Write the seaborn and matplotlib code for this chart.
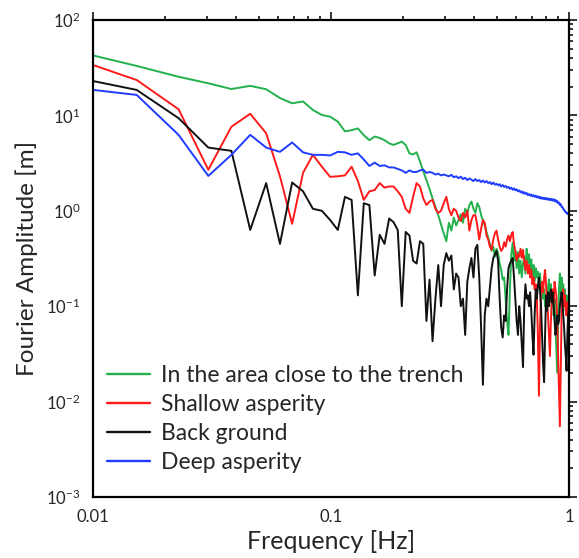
import numpy as np
import pandas as pd
import matplotlib
matplotlib.use("Agg")
import matplotlib.pyplot as plt
import seaborn as sns
from matplotlib.ticker import LogLocator, FixedLocator, FixedFormatter, NullFormatter

# Fourier frequency grid (df = 1/131.072 Hz), k = 1..131
DF = 1 / 131.072
freq = list(np.arange(1, 132) * DF)

trench = [
    50, 33, 25.4, 21.7, 18.9, 20.4, 18.8, 15.2, 13.4, 14.0,
    11.4, 10.1, 9.7, 8.6, 6.8, 7.0, 7.3, 6.2, 5.5, 6.0,
    5.8, 5.5, 5.1, 4.9, 5.1, 5.3, 4.9, 4.0, 3.9, 4.1,
    3.3, 2.6, 2.1, 1.7, 1.35, 1.1, 0.9, 0.72, 0.58, 0.48,
    0.75, 0.62, 0.85, 0.7, 0.8, 0.92, 0.75, 1.05, 0.95, 1.15,
    1.25, 1.05, 0.95, 1.2, 1.1, 0.9, 0.8, 0.7, 0.6, 0.52,
    0.45, 0.38, 0.42, 0.33, 0.40, 0.36, 0.28, 0.24, 0.19, 0.2,
    0.12, 0.07, 0.05, 0.15, 0.35, 0.46, 0.3, 0.38, 0.25, 0.37,
    0.22, 0.3, 0.2, 0.28, 0.33, 0.22, 0.4, 0.28, 0.35, 0.24,
    0.31, 0.2, 0.27, 0.18, 0.25, 0.2, 0.23, 0.16, 0.22, 0.15,
    0.18, 0.12, 0.15, 0.1, 0.13, 0.1, 0.16, 0.19, 0.12, 0.17,
    0.1, 0.14, 0.08, 0.12, 0.06, 0.035, 0.02, 0.06, 0.15, 0.22,
    0.14, 0.2, 0.12, 0.17, 0.1, 0.15, 0.09, 0.13, 0.08, 0.12,
    0.1,
]

shallow = [
    42.5, 23.5, 11.6, 2.69, 7.6, 10.4, 6.5, 2.3, 0.73, 2.5,
    3.86, 2.9, 2.27, 2.3, 2.35, 2.9, 2.05, 1.3, 1.6, 1.65,
    1.95, 1.75, 1.8, 1.8, 1.6, 1.4, 1.05, 0.95, 1.4, 1.95,
    1.8, 1.35, 1.15, 1.25, 1.3, 1.05, 0.95, 1.0, 1.2, 1.4,
    1.05, 0.9, 1.05, 1.0, 0.85, 0.78, 0.95, 0.85, 1.0, 0.62,
    0.8, 0.9, 0.9, 0.7, 0.5, 0.65, 0.8, 0.75, 0.55, 0.5,
    0.42, 0.39, 0.5, 0.58, 0.62, 0.5, 0.42, 0.38, 0.4, 0.47,
    0.42, 0.5, 0.55, 0.48, 0.56, 0.6, 0.45, 0.38, 0.3, 0.35,
    0.33, 0.4, 0.32, 0.39, 0.3, 0.24, 0.3, 0.22, 0.27, 0.2,
    0.24, 0.17, 0.2, 0.15, 0.17, 0.13, 0.05, 0.0115, 0.06, 0.15,
    0.18, 0.14, 0.2, 0.24, 0.16, 0.11, 0.08, 0.05, 0.03, 0.07,
    0.12, 0.15, 0.11, 0.18, 0.15, 0.13, 0.07, 0.03, 0.012, 0.0055,
    0.02, 0.08, 0.12, 0.15, 0.1, 0.13, 0.09, 0.08, 0.11, 0.09,
    0.07,
]

background = [
    26.3, 18.5, 9.35, 4.6, 4.25, 0.63, 1.95, 0.45, 1.98, 1.6,
    1.05, 1.0, 0.8, 0.63, 1.4, 1.3, 0.13, 1.2, 1.15, 0.21,
    0.56, 0.45, 0.83, 0.76, 0.63, 0.1, 0.6, 0.55, 0.3, 0.28,
    0.48, 0.45, 0.07, 0.19, 0.043, 0.12, 0.27, 0.1, 0.27, 0.36,
    0.3, 0.34, 0.15, 0.22, 0.2, 0.1, 0.12, 0.05, 0.18, 0.25,
    0.32, 0.2, 0.4, 0.44, 0.2, 0.06, 0.015, 0.08, 0.12, 0.1,
    0.16, 0.25, 0.32, 0.35, 0.38, 0.3, 0.12, 0.06, 0.047, 0.08,
    0.07, 0.15, 0.25, 0.28, 0.3, 0.32, 0.2, 0.12, 0.07, 0.05,
    0.1, 0.07, 0.04, 0.023, 0.1, 0.17, 0.12, 0.13, 0.1, 0.14,
    0.09, 0.05, 0.031, 0.08, 0.15, 0.12, 0.16, 0.2, 0.15, 0.1,
    0.05, 0.025, 0.016, 0.05, 0.13, 0.09, 0.14, 0.1, 0.13, 0.15,
    0.11, 0.14, 0.1, 0.07, 0.05, 0.06, 0.08, 0.065, 0.07, 0.1,
    0.12, 0.14, 0.11, 0.08, 0.06, 0.04, 0.03, 0.021, 0.05, 0.08,
    0.1,
]

deep = [
    20, 16.4, 6.25, 2.32, 3.86, 6.25, 4.6, 4.15, 5.2, 4.1,
    3.86, 3.86, 3.8, 4.15, 4.1, 3.86, 4.0, 3.45, 2.95, 3.2,
    2.95, 3.0, 2.85, 2.85, 2.75, 2.65, 2.5, 2.65, 2.55, 2.55,
    2.65, 2.7, 2.5, 2.55, 2.5, 2.4, 2.45, 2.35, 2.4, 2.35,
    2.3, 2.38, 2.25, 2.3, 2.2, 2.28, 2.15, 2.22, 2.1, 2.18,
    2.12, 2.05, 2.15, 2.05, 2.1, 2.0, 2.08, 1.98, 2.05, 1.95,
    2.0, 1.9, 1.98, 1.88, 1.92, 1.85, 1.9, 1.8, 1.86, 1.78,
    1.82, 1.74, 1.78, 1.7, 1.75, 1.66, 1.72, 1.64, 1.68, 1.6,
    1.64, 1.56, 1.6, 1.52, 1.57, 1.5, 1.54, 1.46, 1.5, 1.44,
    1.48, 1.42, 1.46, 1.4, 1.44, 1.38, 1.42, 1.36, 1.4, 1.34,
    1.38, 1.33, 1.37, 1.32, 1.36, 1.31, 1.35, 1.3, 1.34, 1.29,
    1.33, 1.28, 1.32, 1.26, 1.3, 1.24, 1.27, 1.2, 1.22, 1.15,
    1.17, 1.1, 1.1, 1.04, 1.03, 0.98, 0.98, 0.94, 0.95, 0.92,
    0.9,
]

labels = ["In the area close to the trench", "Shallow asperity",
          "Back ground", "Deep asperity"]
colors = ["#22b14c", "#ff1a1a", "#111111", "#1f3cff"]
x_ticks = [0.01, 0.1, 1]
x_tick_labels = ["0.01", "0.1", "1"]

sns.set_style("white")
plt.rcParams["font.family"] = ["Lato", "DejaVu Sans"]
plt.rcParams["mathtext.fontset"] = "custom"
plt.rcParams["mathtext.rm"] = "Lato"
plt.rcParams["mathtext.it"] = "Lato:italic"
plt.rcParams["mathtext.bf"] = "Lato:bold"

rows = []
for lab, vals in zip(labels, [trench, shallow, background, deep]):
    for f, v in zip(freq, vals):
        rows.append({"freq": f, "amp": v, "series": lab})
df = pd.DataFrame(rows)

fig = plt.figure(figsize=(5.79, 5.58), dpi=100)
ax = fig.add_axes([93 / 579, 1 - 497 / 558, 476 / 579, 477 / 558])

sns.lineplot(data=df, x="freq", y="amp", hue="series", hue_order=labels,
             palette=dict(zip(labels, colors)), estimator=None, sort=True,
             linewidth=1.4, ax=ax)

ax.set_xscale("log")
ax.set_yscale("log")
ax.set_xlim(0.01, 1)
ax.set_ylim(1e-3, 1e2)

ax.xaxis.set_major_locator(FixedLocator(x_ticks))
ax.xaxis.set_major_formatter(FixedFormatter(x_tick_labels))
ax.xaxis.set_minor_locator(LogLocator(base=10, subs=np.arange(2, 10)))
ax.xaxis.set_minor_formatter(NullFormatter())
ax.yaxis.set_major_locator(LogLocator(base=10, numticks=10))
ax.yaxis.set_minor_locator(LogLocator(base=10, subs=np.arange(2, 10), numticks=20))
ax.yaxis.set_minor_formatter(NullFormatter())

for sp in ax.spines.values():
    sp.set_visible(True)
    sp.set_color("black")
    sp.set_linewidth(1.6)

ax.tick_params(which="both", direction="out", top=True, right=True,
               color="black", width=1.1)
ax.tick_params(which="major", length=6, labelsize=12, pad=3)
ax.tick_params(which="minor", length=3)

ax.set_xlabel("Frequency [Hz]", fontsize=18, labelpad=3)
ax.set_ylabel("Fourier Amplitude [m]", fontsize=17.5, labelpad=6)

leg = ax.legend(loc="upper left", bbox_to_anchor=(0.0, 0.305), frameon=False,
                fontsize=16.5, handlelength=1.9, handletextpad=0.45,
                labelspacing=0.35, borderpad=0.4, borderaxespad=0.2)
for h in leg.get_lines():
    h.set_linewidth(1.7)

fig.savefig("out.png", dpi=100)
